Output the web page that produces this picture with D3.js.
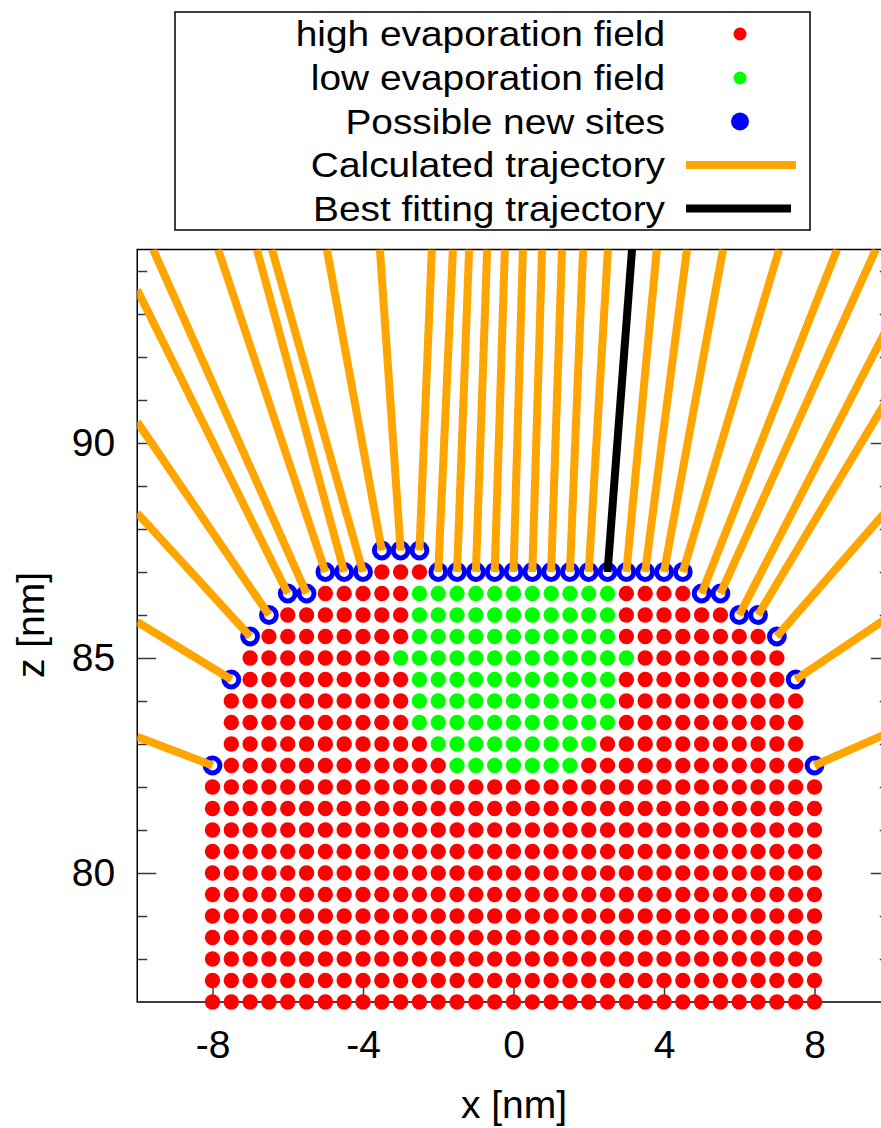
<!DOCTYPE html>
<html>
<head>
<meta charset="utf-8">
<script src="https://cdn.jsdelivr.net/npm/d3@7"></script>
<style>
  html, body { margin: 0; padding: 0; background: #fff; }
  svg { display: block; }
  text { font-family: "Liberation Sans", Arial, sans-serif; fill: #000; }
</style>
</head>
<body>
<svg id="chart" width="881" height="1128"></svg>
<script>
// runs of atoms on the 0.5 nm lattice: [z, xFrom, xTo]
const highField = [
  [77, -8, 8], [77.5, -8, 8], [78, -8, 8], [78.5, -8, 8], [79, -8, 8], [79.5, -8, 8],
  [80, -8, 8], [80.5, -8, 8], [81, -8, 8], [81.5, -8, 8], [82, -8, 8],
  [82.5, -7.5, -2], [82.5, 2, 7.5],
  [83, -7.5, -2.5], [83, 2.5, 7.5],
  [83.5, -7.5, -3], [83.5, 3, 7.5],
  [84, -7.5, -3], [84, 3, 7.5],
  [84.5, -7, -3], [84.5, 3, 7],
  [85, -7, -3.5], [85, 3.5, 7],
  [85.5, -6.5, -3], [85.5, 3, 6.5],
  [86, -6, -3], [86, 3, 5.5],
  [86.5, -5, -3], [86.5, 3, 4.5],
  [87, -3.5, -2.5]
]
const lowField = [
  [82.5, -1.5, 1.5], [83, -2, 2], [83.5, -2.5, 2.5], [84, -2.5, 2.5], [84.5, -2.5, 2.5],
  [85, -3, 3], [85.5, -2.5, 2.5], [86, -2.5, 2.5], [86.5, -2.5, 2.5]
]
// possible new sites [x, z]
const newSites = [
  [-8, 82.5], [-7.5, 84.5], [-7, 85.5], [-6.5, 86], [-6, 86.5], [-5.5, 86.5],
  [-5, 87], [-4.5, 87], [-4, 87], [-3.5, 87.5], [-3, 87.5], [-2.5, 87.5],
  [-2, 87], [-1.5, 87], [-1, 87], [-0.5, 87], [0, 87], [0.5, 87], [1, 87], [1.5, 87],
  [2, 87], [2.5, 87], [3, 87], [3.5, 87], [4, 87], [4.5, 87],
  [5, 86.5], [5.5, 86.5], [6, 86], [6.5, 86], [7, 85.5], [7.5, 84.5], [8, 82.5]
]
// where each trajectory leaves the plot [x, z]
const trajEnd = [
  [-10, 83.17], [-10, 85.84], [-10, 88.37], [-10, 90.49], [-10, 93.56], [-9.58, 94.5],
  [-7.85, 94.5], [-6.82, 94.5], [-6.42, 94.5], [-4.96, 94.5], [-3.55, 94.5], [-2.17, 94.5],
  [-1.61, 94.5], [-1.18, 94.5], [-0.70, 94.5], [-0.23, 94.5], [0.25, 94.5], [0.76, 94.5], [1.29, 94.5], [1.85, 94.5],
  [2.51, 94.5], [3.15, 94.5], [3.81, 94.5], [4.61, 94.5], [5.57, 94.5], [7.06, 94.5],
  [8.60, 94.5], [9.63, 94.5], [10, 92.79], [10, 91.11], [10, 88.51], [10, 85.97], [10, 83.27]
]
const bestSite = 21

const xTicks = [-8, -4, 0, 4, 8]
const xMinor = [-6, -2, 2, 6]
const zTicks = [80, 85, 90]
const zMinor = [78, 79, 81, 82, 83, 84, 86, 87, 88, 89, 91, 92, 93, 94]

const legendLabels = ['high evaporation field', 'low evaporation field', 'Possible new sites',
  'Calculated trajectory', 'Best fitting trajectory']

let step = 0.5
let expand = runs => runs.flatMap(([z, a, b]) => d3.range(a, b + step / 2, step).map(x => [x, z]))

let x = d3.scaleLinear().domain([-10, 10]).range([137.25, 889.75])
let y = d3.scaleLinear().domain([77, 94.5]).range([1002, 249.5])

let svg = d3.select('#chart')
let tickColor = '#3a3a3a'
let dotR = 7.7

svg.append('defs').append('clipPath').attr('id', 'plotclip')
  .append('rect')
  .attr('x', x(-10)).attr('y', y(94.5))
  .attr('width', x(10) - x(-10)).attr('height', y(77) - y(94.5))

// ticks
let gx = svg.append('g').attr('transform', `translate(0,${y(77)})`)
  .call(d3.axisBottom(x).tickValues(xTicks).tickSize(-15).tickPadding(28).tickFormat(d => String(d)))
gx.append('g').call(d3.axisBottom(x).tickValues(xMinor).tickSize(-7).tickFormat(''))
let gy = svg.append('g').attr('transform', `translate(${x(-10)},0)`)
  .call(d3.axisLeft(y).tickValues(zTicks).tickSize(-19).tickPadding(22).tickFormat(d => String(d)))
gy.append('g').call(d3.axisLeft(y).tickValues(zMinor).tickSize(-10).tickFormat(''))
let gr = svg.append('g').attr('transform', `translate(${x(10)},0)`)
  .call(d3.axisRight(y).tickValues(zTicks).tickSize(-19).tickFormat(''))
gr.append('g').call(d3.axisRight(y).tickValues(zMinor).tickSize(-10).tickFormat(''))

svg.selectAll('.domain').remove()
svg.selectAll('.tick line').attr('stroke', tickColor).attr('stroke-width', 1.5)
svg.selectAll('.tick text').style('font-size', '39px').attr('fill', '#000')
  .style('font-family', '"Liberation Sans", Arial, sans-serif')

// border
svg.append('rect')
  .attr('x', x(-10)).attr('y', y(94.5))
  .attr('width', x(10) - x(-10)).attr('height', y(77) - y(94.5))
  .attr('fill', 'none').attr('stroke', '#000').attr('stroke-width', 1.5)

// atoms
svg.append('g').selectAll('circle')
  .data(expand(highField))
  .join('circle')
  .attr('cx', d => x(d[0])).attr('cy', d => y(d[1])).attr('r', dotR)
  .attr('fill', '#ff0000')

svg.append('g').selectAll('circle')
  .data(expand(lowField))
  .join('circle')
  .attr('cx', d => x(d[0])).attr('cy', d => y(d[1])).attr('r', dotR)
  .attr('fill', '#00ff00')

svg.append('g').selectAll('circle')
  .data(newSites)
  .join('circle')
  .attr('cx', d => x(d[0])).attr('cy', d => y(d[1])).attr('r', 7.4)
  .attr('fill', 'none').attr('stroke', '#0000ff').attr('stroke-width', 5)

// trajectories
let traj = newSites.map((d, i) => ({ from: d, to: trajEnd[i], best: i === bestSite }))
svg.append('g').attr('clip-path', 'url(#plotclip)')
  .selectAll('line')
  .data(traj)
  .join('line')
  .attr('x1', d => x(d.from[0])).attr('y1', d => y(d.from[1]))
  .attr('x2', d => x(d.to[0])).attr('y2', d => y(d.to[1]))
  .attr('stroke', d => d.best ? '#000' : '#ffa500')
  .attr('stroke-width', 8)
  .sort((a, b) => a.best - b.best)

// axis labels
svg.append('text')
  .attr('x', 514).attr('y', 1118)
  .attr('text-anchor', 'middle')
  .style('font-size', '39px')
  .text('x [nm]')
svg.append('text')
  .attr('transform', 'translate(44,625) rotate(-90)')
  .attr('text-anchor', 'middle')
  .style('font-size', '39px')
  .text('z [nm]')

// legend
let rowY = [34, 78, 121.5, 165, 208.5]
let legend = svg.append('g')
legend.append('rect')
  .attr('x', 175).attr('y', 12).attr('width', 635).attr('height', 218)
  .attr('fill', '#fff').attr('stroke', '#000').attr('stroke-width', 1.5)

legend.selectAll('text')
  .data(legendLabels)
  .join('text')
  .attr('transform', (d, i) => `translate(665,${rowY[i] + 12}) scale(1.12,1)`)
  .attr('text-anchor', 'end')
  .style('font-size', '34.7px')
  .text(d => d)

legend.append('circle').attr('cx', 740).attr('cy', rowY[0]).attr('r', 6.5).attr('fill', '#ff0000')
legend.append('circle').attr('cx', 740).attr('cy', rowY[1]).attr('r', 6.5).attr('fill', '#00ff00')
legend.append('circle').attr('cx', 740).attr('cy', rowY[2]).attr('r', 9).attr('fill', '#0000ff')
legend.append('line').attr('x1', 686).attr('x2', 796).attr('y1', rowY[3]).attr('y2', rowY[3])
  .attr('stroke', '#ffa500').attr('stroke-width', 8)
legend.append('line').attr('x1', 686).attr('x2', 791).attr('y1', rowY[4]).attr('y2', rowY[4])
  .attr('stroke', '#000').attr('stroke-width', 8)
</script>
</body>
</html>
